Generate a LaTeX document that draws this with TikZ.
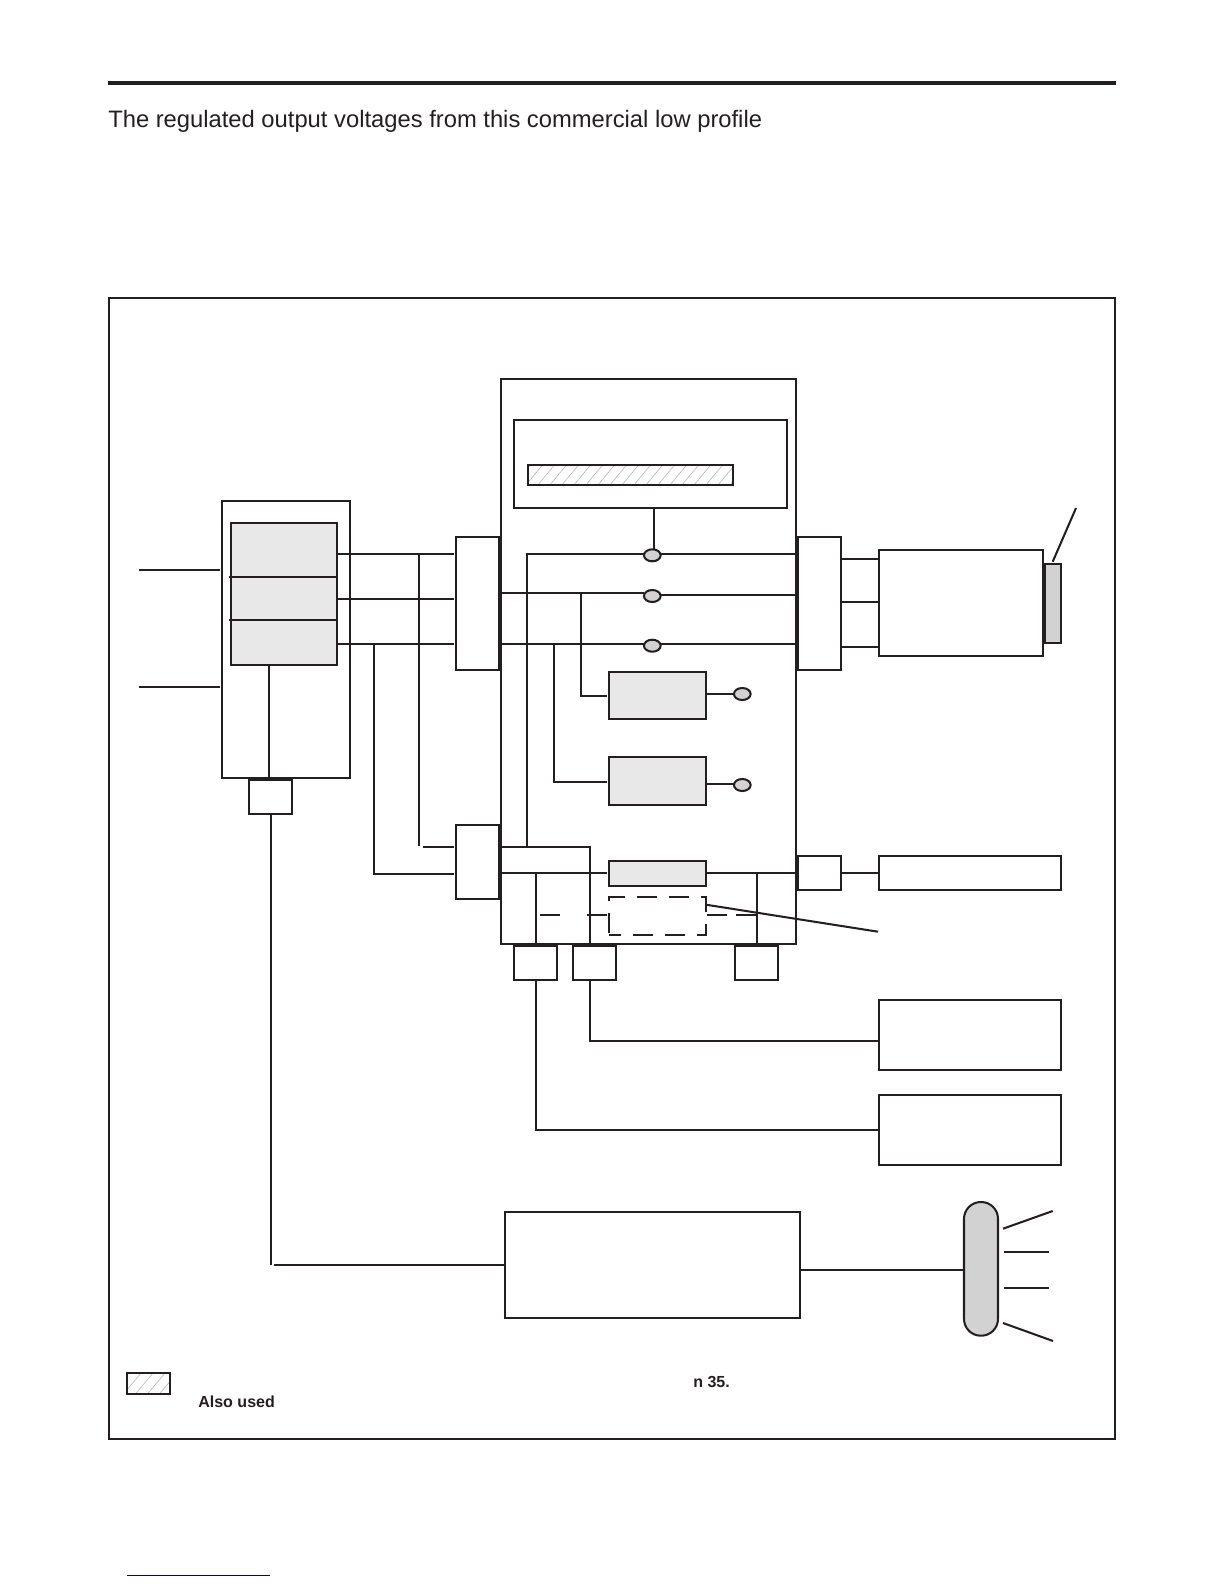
\documentclass[tikz,border=0pt]{standalone}
\usepackage{fontspec}
\usepackage{xcolor}
\setmainfont{Liberation Sans}
\usetikzlibrary{shapes.geometric,patterns.meta}
\definecolor{ink}{HTML}{231F20}
\definecolor{cellgrey}{HTML}{E8E8E8}
\definecolor{tapgrey}{HTML}{D2D2D2}
\tikzset{
  sized/.style 2 args={rectangle,draw,line width=1.45pt,inner sep=0pt,outer sep=0pt,
    minimum width=#1*0.025cm,minimum height=#2*0.025cm},
  cell/.style={fill=cellgrey},
  hatched/.style={pattern={Lines[angle=50,distance=0.23cm,line width=0.4pt]},pattern color=black!30},
  tap/.style={ellipse,draw,fill=tapgrey,line width=1.45pt,inner sep=0pt,outer sep=0pt,
    minimum width=16.7*0.025cm,minimum height=12*0.025cm},
  wire/.style={line width=1.45pt},
  gapped/.style={wire,shorten >=0.05cm},
}
\begin{document}
\begin{tikzpicture}[x=0.025cm,y=-0.025cm,color=ink]
  \useasboundingbox (0,0) rectangle (1224,1584);
  \draw[line width=0.1cm] (108,83) -- (1116,83);
  \node[anchor=base west,inner sep=0pt,font=\fontsize{16.9}{20}\selectfont] (intro) at (108,127)
    {The regulated output voltages from this commercial low profile};
  \node[sized={1006}{1140.7}] (frame) at (612,868.35) {};

  % power supply
  \node[sized={128}{277}] (psu) at (286,639.5) {};
  \node[sized={106.3}{142},cell] (psucell) at (283.85,594) {};
  \node[sized={43}{34}] (fuse) at (270.7,797) {};
  \coordinate (inpa) at (139,570);
  \coordinate (inpb) at (139,687);
  \draw[gapped] (inpa) -- (psu.west |- inpa);
  \draw[gapped] (inpb) -- (psu.west |- inpb);
  \foreach \y in {576.7,620} {
    \draw[wire] (229,\y) -- (psucell.east |- 0,\y);
  }
  \draw[wire] (psucell.south -| 269,0) -- (psu.south -| 269,0);

  % main board
  \node[sized={295}{564.7}] (board) at (648.5,661.35) {};
  \node[sized={273.3}{87.7}] (display) at (650.35,463.85) {};
  \node[sized={205.3}{20},hatched] (strip) at (630.35,475) {};
  \node[sized={43}{133}] (connl) at (477.5,603.5) {};
  \node[sized={43}{74}] (connk) at (477.5,862) {};
  \node[sized={43.3}{133}] (connr) at (819.35,603.5) {};
  \node[sized={43}{33.7}] (conns) at (819.5,872.85) {};
  \node[tap] (tapa) at (652.3,555.3) {};
  \node[tap] (tapb) at (652.3,596) {};
  \node[tap] (tapc) at (652.3,645.7) {};
  \node[sized={97}{47},cell] (regb) at (657.5,695.6) {};
  \node[sized={97}{47.7},cell] (regc) at (657.5,780.85) {};
  \node[sized={97}{25.3},cell] (regd) at (657.5,873.35) {};
  \node[sized={97}{38},dash pattern=on 0.5cm off 0.3cm,dash phase=0.2cm] (option) at (657.5,916) {};
  \node[tap] (outb) at (742.3,694) {};
  \node[tap] (outc) at (742.3,785) {};
  \node[sized={43}{34.3}] (porta) at (535.7,962.85) {};
  \node[sized={43}{34.3}] (portb) at (594.5,962.85) {};
  \node[sized={43}{34.3}] (portc) at (756.7,962.85) {};

  % supply rails to the board
  \foreach \y in {554,599,644} {
    \draw[gapped] (psucell.east |- 0,\y) -- (connl.west |- 0,\y);
  }
  \coordinate (juna) at (419,554);
  \coordinate (junb) at (374,644);
  \draw[wire] (juna) -- (419,845.7);
  \draw[gapped] (423,847) -- (connk.west |- 0,847);
  \draw[gapped] (junb) |- (connk.west |- 0,874);

  % rails on the board
  \coordinate (railb) at (590,846.7);
  \coordinate (railc) at (526.7,846.7);
  \coordinate (junc) at (580.7,592.7);
  \coordinate (jund) at (553.7,643.7);
  \draw[wire] (display.south -| 653.7,0) -- (653.7,550);
  \draw[wire] (tapa.west |- 0,553.7) -| (railc);
  \draw[wire] (tapa.east |- 0,553.7) -- (board.east |- 0,553.7);
  \draw[wire] (board.west |- 0,592.7) -- (tapb.west |- 0,592.7);
  \draw[wire] (tapb.east |- 0,595) -- (board.east |- 0,595);
  \draw[wire] (board.west |- 0,643.7) -- (tapc.west |- 0,643.7);
  \draw[wire] (tapc.east |- 0,643.7) -- (board.east |- 0,643.7);
  \draw[gapped] (junc) |- (regb.west);
  \draw[gapped] (jund) |- (regc.west |- 0,782);
  \draw[wire] (regb.east |- outb.west) -- (outb.west);
  \draw[wire] (regc.east |- 0,783.7) -- (outc.west |- 0,783.7);
  \draw[gapped] (board.west |- regd.west) -- (regd.west);
  \draw[wire] (regd.east) -- (board.east |- regd.east);
  \draw[wire] (board.west |- railb) -- (railb) -- (railb |- board.south);
  \draw[wire] (porta.north) -- (porta.north |- regd.west);
  \draw[wire] (portc.north) -- (portc.north |- regd.east);
  \foreach \a/\b in {540/560,587/606.7,706.7/726.7,736/756.7} {
    \draw[wire] (\a,915) -- (\b,915);
  }
  \coordinate (optend) at (878,931.7);
  \draw[wire] (option.east |- 0,904.7) -- (optend);

  % right hand side
  \node[sized={164.3}{105.7}] (cam) at (960.85,602.85) {};
  \node[sized={16}{79},fill=tapgrey] (lens) at (1053,603.5) {};
  \node[sized={182}{34}] (loada) at (970,873) {};
  \node[sized={182}{70}] (loadb) at (970,1035) {};
  \node[sized={182}{70}] (loadc) at (970,1130) {};
  \foreach \y in {559,602,646.7} {
    \draw[wire] (connr.east |- 0,\y) -- (cam.west |- 0,\y);
  }
  \coordinate (lensend) at (1076,508);
  \draw[wire] (1052.7,561.7) -- (lensend);
  \draw[wire] (conns.east |- loada.west) -- (loada.west);
  \draw[wire] (railb |- portb.south) |- (loadb.west |- 0,1040.6);
  \draw[wire] (porta.south) |- (loadc.west);

  % bottom
  \node[sized={295}{106}] (ctrl) at (652.5,1265) {};
  \node[sized={34}{133.7},fill=tapgrey,rounded corners=0.42cm] (pill) at (981,1268.85) {};
  \coordinate (ctrlend) at (274,1265);
  \draw[wire] (fuse.south) -- (fuse.south |- ctrl.west);
  \draw[wire] (ctrlend) -- (ctrl.west);
  \draw[wire] (ctrl.east |- 0,1270) -- (pill.west |- 0,1270);
  \foreach \a/\b/\c/\d in {1003/1228.7/1052.7/1211, 1004/1252/1049/1252,
                           1004/1288/1049/1288, 1003/1323/1053/1341} {
    \draw[wire] (\a,\b) -- (\c,\d);
  }

  % legend
  \node[sized={43.4}{21},hatched] (key) at (148.65,1383.7) {};
  \node[anchor=base west,inner sep=0pt,font=\fontsize{11.4}{13}\bfseries\selectfont] (keya) at (693,1387) {n 35.};
  \node[anchor=base west,inner sep=0pt,font=\fontsize{11.4}{13}\bfseries\selectfont] (keyb) at (198,1407.7) {Also used};
  \draw[blue!50!black,line width=0.6pt] (127,1575) -- (270,1575);
\end{tikzpicture}
\end{document}
